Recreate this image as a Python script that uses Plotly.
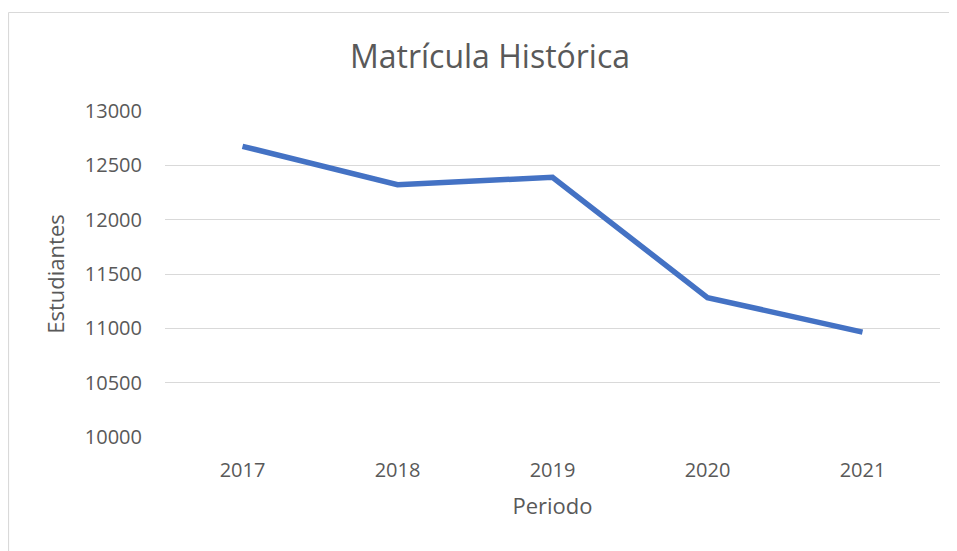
import plotly.graph_objects as go

# Matrícula histórica por periodo
periodos = ["2017", "2018", "2019", "2020", "2021"]
estudiantes = [12675, 12322, 12390, 11283, 10965]
y_ticks = [10000, 10500, 11000, 11500, 12000, 12500, 13000]

# page has an 8px body margin, so the figure sits 8px in from the corner
W, H = 949, 543
ml, mr, mt, mb = 157, 17, 103, 114
pw, ph = W - ml - mr, H - mt - mb

gray = "#595959"
font = "'Open Sans', sans-serif"

fig = go.Figure()
fig.add_trace(go.Scatter(
    x=periodos, y=estudiantes, mode="lines",
    line=dict(color="#4472C4", width=5.5),
    hoverinfo="x+y",
))


# chart area border (figure px -> paper coords); only top and left are in view
def px_x(v):
    return (v - ml) / pw


def px_y(v):
    return (H - mb - v) / ph


border = dict(color="#D9D9D9", width=1.2)
fig.add_shape(type="line", xref="paper", yref="paper",
              x0=px_x(0.5), x1=px_x(W), y0=px_y(4.5), y1=px_y(4.5),
              line=border, layer="below")
fig.add_shape(type="line", xref="paper", yref="paper",
              x0=px_x(0.5), x1=px_x(0.5), y0=px_y(4.5), y1=px_y(H),
              line=border, layer="below")

fig.update_layout(
    width=W, height=H,
    margin=dict(l=ml, r=mr, t=mt, b=mb),
    paper_bgcolor="white", plot_bgcolor="white",
    font=dict(family=font, color=gray, size=20),
    showlegend=False,
    title=dict(text="Matrícula Histórica", x=482 / W, xanchor="center",
               y=1 - 49 / H, yanchor="middle",
               font=dict(size=32, color=gray, family=font)),
    xaxis=dict(
        type="category", range=[-0.5, 4.5],
        showgrid=False, zeroline=False,
        showline=False, ticks="", ticklabelstandoff=19,
        tickfont=dict(size=20, color=gray),
        title=dict(text="Periodo", standoff=16, font=dict(size=22, color=gray)),
    ),
    yaxis=dict(
        range=[10000, 13000], tickvals=y_ticks, tickformat="d",
        showgrid=True, gridcolor="#D9D9D9", gridwidth=1.3,
        zeroline=False, showline=False, ticks="",
        ticklabelstandoff=22,
        tickfont=dict(size=20, color=gray),
        title=dict(text="Estudiantes", standoff=14, font=dict(size=22, color=gray)),
    ),
)

fig.write_html("out.html")
